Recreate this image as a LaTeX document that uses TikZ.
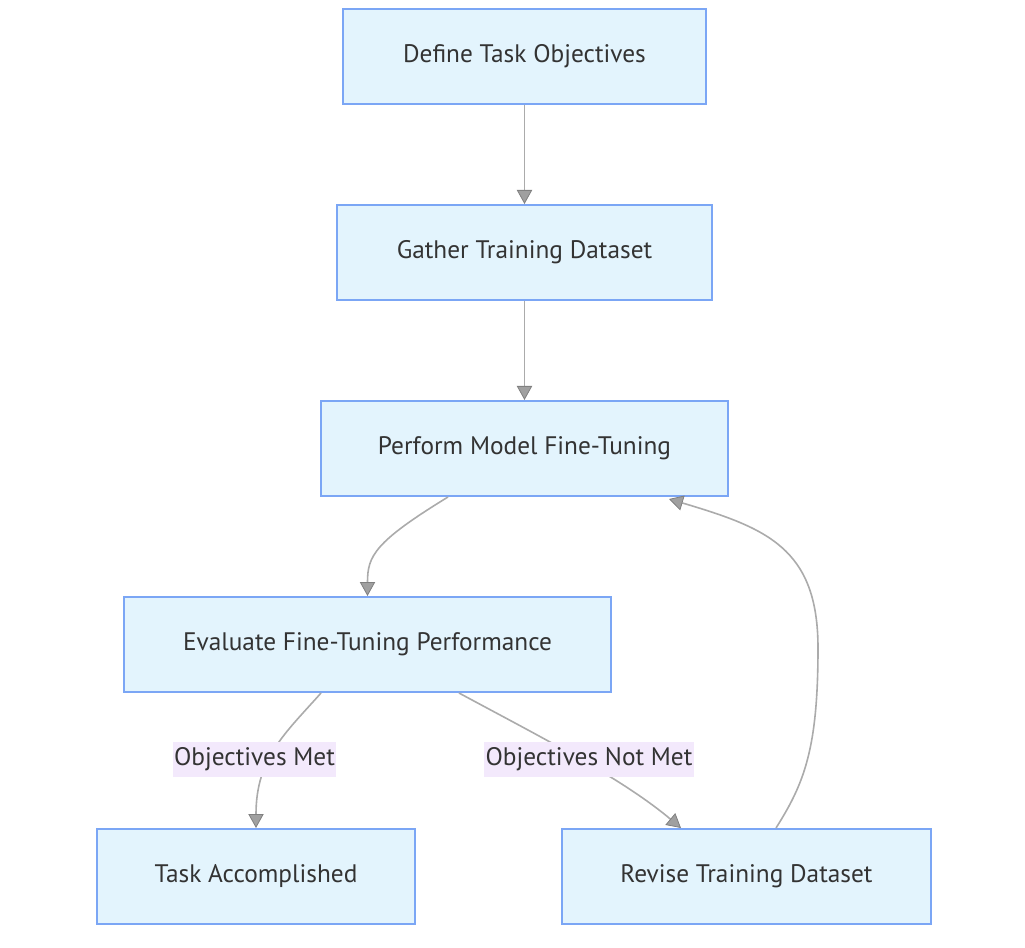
\documentclass[tikz,border=0pt]{standalone}
\usepackage{fontspec}
\setmainfont{PT Sans}
\usetikzlibrary{calc,arrows.meta}
\definecolor{boxfill}{HTML}{E3F4FD}
\definecolor{boxline}{HTML}{7BA6F5}
\definecolor{edgegray}{HTML}{ABABAB}
\definecolor{tipgray}{HTML}{A0A0A0}
\definecolor{tipline}{HTML}{808080}
\definecolor{labelfill}{HTML}{F3E9FC}
\definecolor{texte}{HTML}{333333}
\tikzstyle{etape} = [rectangle, draw=boxline, fill=boxfill, line width=1.5pt, minimum height=71.25pt, text=texte, font=\fontsize{19}{22}\selectfont, inner sep=0pt]
\tikzstyle{lien} = [draw=edgegray, line width=1.2pt, -{Triangle[length=10.5pt, width=11.5pt, fill=tipgray, color=tipline, line width=0.6pt]}]
\tikzstyle{etiquette} = [rectangle, fill=labelfill, text=texte, font=\fontsize{19}{22}\selectfont, inner xsep=1pt, inner ysep=0pt, minimum height=26pt]

\begin{document}
\begin{tikzpicture}[x=0.75pt, y=-0.75pt]
                \useasboundingbox (0,0) rectangle (1025,948);

                \node (objectifs) [etape, anchor=north west, minimum width=272.25pt] at (342,8) {Define Task Objectives};
                \node (collecte) [etape, anchor=north west, minimum width=281.25pt] at (336,204) {Gather Training Dataset};
                \node (affinage) [etape, anchor=north west, minimum width=305.25pt] at (320,400) {Perform Model Fine-Tuning};
                \node (evaluation) [etape, anchor=north west, minimum width=365.25pt] at (123,596) {Evaluate Fine-Tuning Performance};
                \node (accompli) [etape, anchor=north west, minimum width=238.5pt] at (96,828) {Task Accomplished};
                \node (revision) [etape, anchor=north west, minimum width=276.75pt] at (561,828) {Revise Training Dataset};

                \draw[lien] (objectifs) -- (collecte);
                \draw[lien] (collecte) -- (affinage);
                \draw[lien] ($(affinage.south) + (-76.5,0)$) .. controls ($(affinage.south) + (-150,45)$) and ($(evaluation.north) + (0,-40)$) .. (evaluation.north);
                \draw[lien] ($(evaluation.south) + (-46.5,0)$) .. controls ($(evaluation.south) + (-82,40)$) and ($(accompli.north) + (0,-70)$) .. (accompli.north);
                \draw[lien] ($(evaluation.south) + (91.5,0)$) .. controls ($(evaluation.south) + (175,45)$) and ($(revision.north) + (-125,-50)$) .. ($(revision.north) + (-65.5,0)$);
                \draw[lien] ($(revision.north) + (29.5,0)$) .. controls ($(revision.north) + (58,-45)$) and ($(revision.north) + (71.5,-80)$) .. ($(revision.north) + (71.5,-180)$)
                    .. controls ($(revision.north) + (71.5,-280)$) and ($(revision.north) + (20,-300)$) .. ($(affinage.south) + (144.5,2)$);

                \node (atteint) [etiquette] at (254.5,759.5) {Objectives Met};
                \node (nonatteint) [etiquette] at (589,759.5) {Objectives Not Met};
            \end{tikzpicture}
\end{document}
